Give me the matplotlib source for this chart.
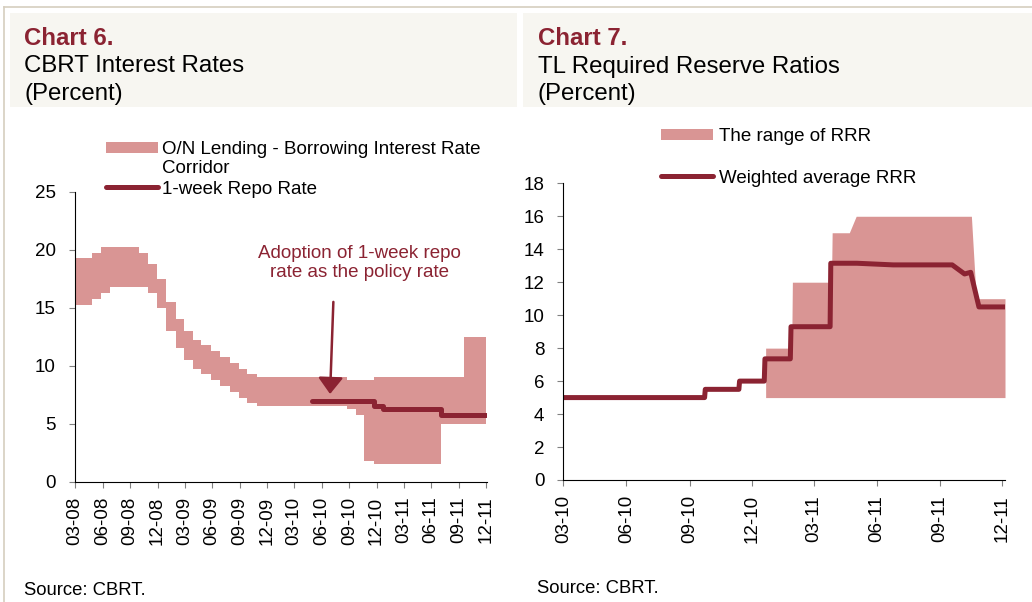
import matplotlib
matplotlib.use('Agg')
import matplotlib.pyplot as plt
from matplotlib.patches import Patch, Rectangle
from matplotlib.lines import Line2D
import pandas as pd

plt.rcParams['font.family'] = ['Liberation Sans', 'DejaVu Sans']

FILL = '#D99594'
DARK = '#8B2332'
FRAME = '#D6CEBF'
BOX = '#F7F6F1'

# ---------------- Chart 6 data ----------------
corridor_dates = ['2008-03-01', '2008-04-25', '2008-05-28', '2008-06-27', '2008-10-01',
                  '2008-10-31', '2008-11-28', '2008-12-28', '2009-01-30', '2009-02-27',
                  '2009-03-28', '2009-04-26', '2009-05-27', '2009-06-27', '2009-07-30',
                  '2009-08-29', '2009-09-26', '2009-10-29', '2010-08-23', '2010-09-22',
                  '2010-10-20', '2010-11-23', '2011-07-03', '2011-09-18', '2011-12-02']
corridor_upper = [19.25, 19.75, 20.25, 20.25, 19.75, 18.75, 17.5, 15.5, 14.0, 13.0,
                  12.25, 11.75, 11.25, 10.75, 10.25, 9.75, 9.25, 9.0, 8.75, 8.75,
                  8.75, 9.0, 9.0, 12.5, 12.5]
corridor_lower = [15.25, 15.75, 16.25, 16.75, 16.75, 16.25, 15.0, 13.0, 11.5, 10.5,
                  9.75, 9.25, 8.75, 8.25, 7.75, 7.25, 6.75, 6.5, 6.25, 5.75,
                  1.75, 1.5, 5.0, 5.0, 5.0]

repo_dates = ['2010-04-30', '2010-11-23', '2010-12-23', '2011-07-03', '2011-12-02']
repo_rate = [7.0, 6.5, 6.25, 5.75, 5.75]

chart6_ticks = pd.date_range('2008-03-01', '2011-12-01', freq='3MS')
chart6_xlim = ('2008-03-01', '2011-12-04')
chart6_yticks = [0, 5, 10, 15, 20, 25]

arrow_from = ('2010-07-10', 15.5)
arrow_to = ('2010-06-29', 7.56)
note_pos = ('2010-10-04', 18.85)
note_text = 'Adoption of 1-week repo\nrate as the policy rate'

# ---------------- Chart 7 data ----------------
range_dates = ['2010-12-21', '2011-01-28', '2011-01-29', '2011-03-27', '2011-03-28',
               '2011-04-22', '2011-05-02', '2011-10-17', '2011-10-24', '2011-12-05']
range_upper = [8, 8, 12, 12, 15, 15, 16, 16, 11, 11]
range_lower = [5, 5, 5, 5, 5, 5, 5, 5, 5, 5]

rrr_dates = ['2010-03-01', '2010-09-23', '2010-09-24', '2010-11-12', '2010-11-13',
             '2010-12-19', '2010-12-20', '2011-01-26', '2011-01-27', '2011-03-25',
             '2011-03-26', '2011-05-03', '2011-06-25', '2011-09-19', '2011-10-07',
             '2011-10-16', '2011-10-28', '2011-12-05']
rrr_avg = [5.0, 5.0, 5.5, 5.5, 6.0, 6.0, 7.35, 7.35, 9.3, 9.3,
           13.15, 13.15, 13.05, 13.05, 12.5, 12.6, 10.5, 10.5]

chart7_ticks = pd.date_range('2010-03-01', '2011-12-01', freq='3MS')
chart7_xlim = ('2010-03-01', '2011-12-05')
chart7_yticks = list(range(0, 19, 2))

W, H = 1032, 602
fig = plt.figure(figsize=(W / 100, H / 100), dpi=100)


def fx(px):
    return px / W


def fy(py):
    return 1 - py / H


# frame & title boxes
fig.add_artist(Line2D([fx(4), 1], [fy(6.5), fy(6.5)], color=FRAME, lw=1.2))
fig.add_artist(Line2D([fx(4), fx(4)], [fy(6.5), 0], color=FRAME, lw=1.2))
fig.add_artist(Rectangle((fx(10), fy(107)), fx(516.7) - fx(10), fy(13) - fy(107),
                         facecolor=BOX, edgecolor='none', transform=fig.transFigure, zorder=0))
fig.add_artist(Rectangle((fx(522.7), fy(107)), 1 - fx(522.7), fy(13) - fy(107),
                         facecolor=BOX, edgecolor='none', transform=fig.transFigure, zorder=0))

TFS = 17.3
for x0, num, title in [(24, 'Chart 6.', 'CBRT Interest Rates'),
                       (537.5, 'Chart 7.', 'TL Required Reserve Ratios')]:
    fig.text(fx(x0), fy(45), num, fontsize=TFS, fontweight='bold', color=DARK, va='baseline')
    fig.text(fx(x0), fy(72.5), title, fontsize=TFS, va='baseline')
    fig.text(fx(x0), fy(100), '(Percent)', fontsize=TFS, va='baseline')

fig.text(fx(24), fy(595), 'Source: CBRT.', fontsize=13.3, va='baseline')
fig.text(fx(536.7), fy(593), 'Source: CBRT.', fontsize=13.3, va='baseline')

FS = 13.5


def style_axes(ax, ticks, xlim, yticks):
    for s in ['top', 'right']:
        ax.spines[s].set_visible(False)
    for s in ['left', 'bottom']:
        ax.spines[s].set_color('black')
        ax.spines[s].set_linewidth(0.8)
    ax.set_xlim(pd.to_datetime(xlim[0]), pd.to_datetime(xlim[1]))
    ax.set_ylim(yticks[0], yticks[-1])
    ax.set_yticks(yticks)
    ax.set_xticks(ticks)
    ax.set_xticklabels([t.strftime('%m-%y') for t in ticks], rotation=90)
    ax.tick_params(axis='both', direction='out', length=4.3, width=0.8,
                   color='#808080', labelsize=FS)
    ax.tick_params(axis='x', pad=6.5)
    ax.tick_params(axis='y', pad=9.4)
    ax.set_facecolor('none')


# ---------------- Chart 6 ----------------
ax1 = fig.add_axes([fx(75), fy(481.7), fx(487) - fx(75), fy(191.7) - fy(481.7)])
cd = pd.to_datetime(corridor_dates)
ax1.fill_between(cd, corridor_lower, corridor_upper, step='post', color=FILL, lw=0)
ax1.plot(pd.to_datetime(repo_dates), repo_rate, drawstyle='steps-post', color=DARK,
         lw=3.6, solid_capstyle='round', solid_joinstyle='round')
style_axes(ax1, chart6_ticks, chart6_xlim, chart6_yticks)

ax1.annotate('', xy=(pd.to_datetime(arrow_to[0]), arrow_to[1]),
             xytext=(pd.to_datetime(arrow_from[0]), arrow_from[1]),
             arrowprops=dict(arrowstyle='-|>,head_length=0.5,head_width=0.38',
                             color=DARK, lw=1.8, shrinkA=0, shrinkB=0, mutation_scale=20))
ax1.text(pd.to_datetime(note_pos[0]), note_pos[1], note_text, ha='center', va='center',
         color=DARK, fontsize=FS)

h1 = [Patch(facecolor=FILL, edgecolor='none'),
      Line2D([], [], color=DARK, lw=3.6, solid_capstyle='round')]
fig.legend(h1, ['O/N Lending - Borrowing Interest Rate', '1-week Repo Rate'],
           loc='upper left', bbox_to_anchor=(fx(106), fy(141)), bbox_transform=fig.transFigure,
           frameon=False, borderpad=0, borderaxespad=0, handlelength=2.77, handleheight=0.55,
           handletextpad=0.2, labelspacing=1.2, fontsize=FS)
fig.text(fx(162), fy(168), 'Corridor', va='center', fontsize=FS)

# ---------------- Chart 7 ----------------
ax2 = fig.add_axes([fx(563.3), fy(480), fx(1005) - fx(563.3), fy(183.3) - fy(480)])
ax2.fill_between(pd.to_datetime(range_dates), range_lower, range_upper, color=FILL, lw=0)
ax2.plot(pd.to_datetime(rrr_dates), rrr_avg, color=DARK, lw=3.6,
         solid_capstyle='round', solid_joinstyle='round')
style_axes(ax2, chart7_ticks, chart7_xlim, chart7_yticks)

h2 = [Patch(facecolor=FILL, edgecolor='none'),
      Line2D([], [], color=DARK, lw=3.6, solid_capstyle='round')]
fig.legend(h2, ['The range of RRR', 'Weighted average RRR'],
           loc='upper left', bbox_to_anchor=(fx(661), fy(128)), bbox_transform=fig.transFigure,
           frameon=False, borderpad=0, borderaxespad=0, handlelength=2.77, handleheight=0.55,
           handletextpad=0.32, labelspacing=1.31, fontsize=FS)

fig.savefig('out.png', dpi=100)
